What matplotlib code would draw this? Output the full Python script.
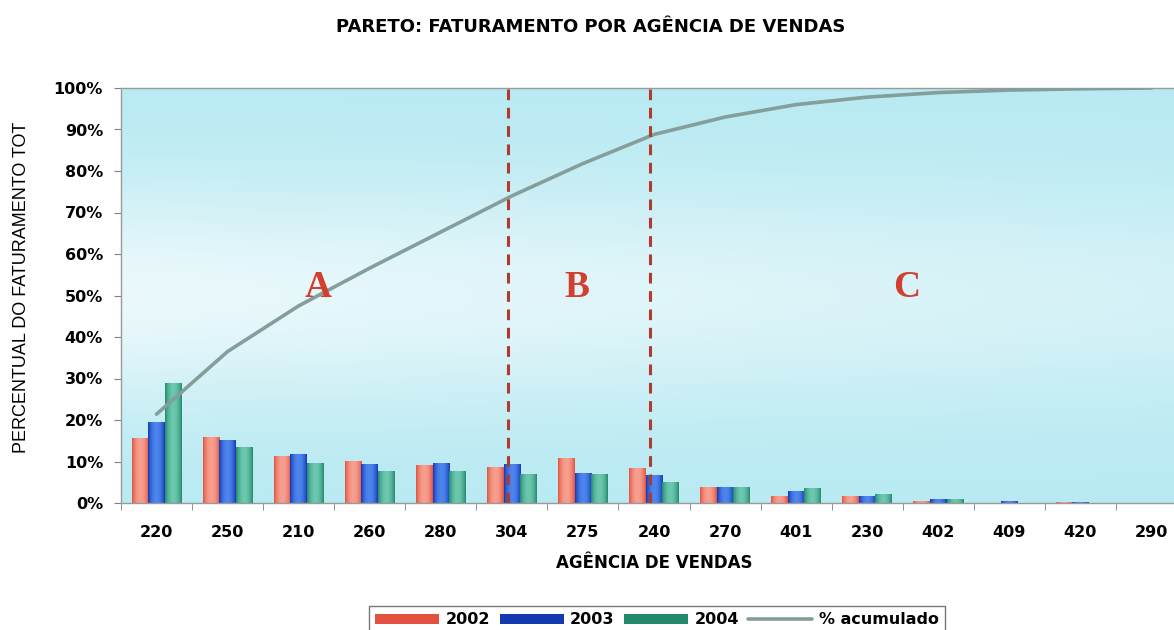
import numpy as np
import matplotlib.pyplot as plt
from matplotlib.colors import LinearSegmentedColormap

plt.rcParams['font.family'] = ['Liberation Sans', 'DejaVu Sans']

agencias = ['220', '250', '210', '260', '280', '304', '275', '240',
            '270', '401', '230', '402', '409', '420', '290']
fat_2002 = [15.6, 16.0, 11.3, 10.1, 9.2, 8.7, 10.8, 8.4, 3.9, 1.7, 1.6, 0.6, 0.1, 0.2, 0.05]
fat_2003 = [19.6, 15.2, 11.7, 9.3, 9.6, 9.3, 7.3, 6.7, 3.9, 2.9, 1.6, 0.9, 0.5, 0.2, 0.05]
fat_2004 = [28.8, 13.6, 9.7, 7.8, 7.7, 7.1, 6.9, 5.1, 3.9, 3.5, 2.1, 0.9, 0.1, 0.1, 0.05]
acumulado = [21.4, 36.5, 47.5, 56.6, 65.3, 74.0, 81.8, 88.8, 93.0, 96.0,
             97.8, 98.9, 99.5, 99.8, 100.0]
anos = ['2002', '2003', '2004']

# edge / centre shades for the cylinder-like bars
cores = {
    '2002': ('#e2503f', '#f7a090'),
    '2003': ('#1438b0', '#4d86ee'),
    '2004': ('#23896c', '#6cc7ae'),
}
negrito = dict(family='DejaVu Sans', fontweight='bold')

fig = plt.figure(figsize=(11.74, 6.30), dpi=100)
ax = fig.add_axes([121 / 1174, 1 - 503 / 630, 1066 / 1174, 415 / 630])

# background: cyan at top and bottom, lighter band in the middle
ny, nx = 200, 200
yy, xx = np.mgrid[0:1:ny * 1j, 0:1:nx * 1j]
luz = np.exp(-((yy - 0.5) / 0.28) ** 2) * (1 - 0.45 * xx)
ciano = np.array([0.72, 0.915, 0.95])
branco = np.array([0.92, 0.975, 0.985])
fundo = ciano + (branco - ciano) * luz[..., None]
ax.imshow(fundo, extent=(-0.5, 14.5, 0, 100), origin='lower',
          aspect='auto', zorder=0)

x = np.arange(len(agencias))
w = 0.233
series = [fat_2002, fat_2003, fat_2004]
grad = np.linspace(0, 1, 50)
grad = np.sin(grad * np.pi) ** 0.8
handles = []
for i, (ano, vals) in enumerate(zip(anos, series)):
    borda, centro = cores[ano]
    cmap = LinearSegmentedColormap.from_list(ano, [borda, centro])
    bars = ax.bar(x + (i - 1) * w, vals, w, color=borda, label=ano, zorder=2)
    handles.append(bars)
    for b in bars:
        im = ax.imshow(grad[None, :], cmap=cmap, vmin=0, vmax=1,
                       extent=(b.get_x(), b.get_x() + b.get_width(), 0, b.get_height()),
                       aspect='auto', zorder=2.1)
        im.set_clip_path(b)

linha, = ax.plot(x, acumulado, color='#849e9c', lw=2.6, label='% acumulado',
                 zorder=3, solid_capstyle='round')
handles.append(linha)

# ABC class boundaries
for xv in (4.95, 6.95):
    ax.axvline(xv, color='#b03a2c', lw=2.2, ls=(0, (3.5, 2.5)), zorder=4)

for letra, xl in (('A', 2.27), ('B', 5.91), ('C', 10.55)):
    ax.text(xl, 52, letra, family='Liberation Serif', fontweight='bold',
            fontsize=27, color='#d23f2e', ha='center', va='center', zorder=5)

ax.set_xlim(-0.5, 14.5)
ax.set_ylim(0, 100)
ax.set_xticks(x)
ax.set_xticklabels(agencias, fontsize=11.5, **negrito)
ax.set_xticks(np.arange(-0.5, 15, 1), minor=True)
ax.tick_params(axis='x', which='major', length=0, pad=16)
ax.tick_params(axis='x', which='minor', length=5, color='#808080')
ax.set_yticks(np.arange(0, 101, 10))
ax.set_yticklabels([f'{v}%' for v in range(0, 101, 10)], fontsize=11.5, **negrito)
ax.tick_params(axis='y', length=5, color='#808080', pad=8)
for s in ax.spines.values():
    s.set_color('#9a9a9a')
    s.set_linewidth(1.0)

ax.set_xlabel('AGÊNCIA DE VENDAS', fontsize=12, labelpad=10, **negrito)
fig.text(22 / 1174, 1 - 287 / 630, 'PERCENTUAL DO FATURAMENTO TOT', rotation=90,
         fontsize=13, ha='center', va='center')
fig.text(591 / 1174, 1 - 27 / 630, 'PARETO: FATURAMENTO POR AGÊNCIA DE VENDAS',
         fontsize=13, ha='center', va='center', **negrito)

leg = fig.legend(handles=handles, labels=anos + ['% acumulado'],
                 loc='upper center', bbox_to_anchor=(657 / 1174, 1 - 598 / 630),
                 ncol=4, frameon=True, fancybox=False, handlelength=4.0,
                 handleheight=0.6, handletextpad=0.4, columnspacing=0.6,
                 prop={'family': 'DejaVu Sans', 'size': 11.5, 'weight': 'bold'},
                 borderpad=0.4)
leg.get_frame().set_edgecolor('#555555')
leg.get_frame().set_linewidth(1.0)

fig.savefig('out.png', dpi=100)
